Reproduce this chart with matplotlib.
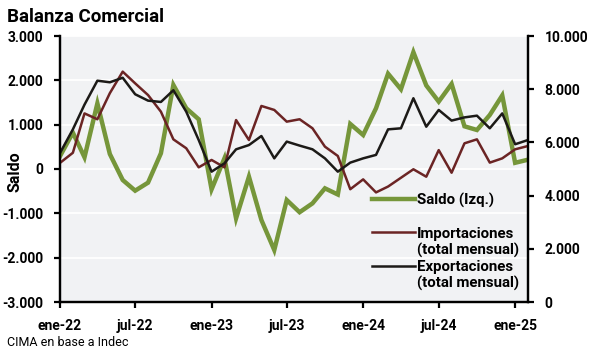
import numpy as np
import pandas as pd
import matplotlib
matplotlib.use("Agg")
import matplotlib.pyplot as plt
from matplotlib.lines import Line2D

plt.rcParams["font.family"] = ["Roboto", "DejaVu Sans"]

# --------------------
# Data (millones de USD)
# --------------------
months = pd.date_range("2022-01-01", periods=38, freq="MS")

saldo = [290, 820, 265, 1480, 338, -248, -489, -308, 354, 1896,
         1370, 1121, -459, 241, -1113, -173, -1151, -1828, -700, -975,
         -775, -436, -575, 1016, 767, 1370, 2150, 1799, 2635, 1885,
         1520, 1919, 963, 880, 1219, 1660, 140, 210]

importaciones = [5230, 5610, 7090, 6870, 7850, 8660, 8220, 7780, 7155, 6115,
                 5780, 5063, 5340, 5063, 6840, 6090, 7370, 7220, 6780, 6870,
                 6530, 5840, 5490, 4240, 4610, 4120, 4340, 4670, 4990, 4710,
                 5710, 4860, 5965, 6115, 5240, 5400, 5740, 5865]

exportaciones = [5600, 6490, 7420, 8320, 8260, 8430, 7810, 7570, 7520, 7960,
                 7155, 6090, 4900, 5213, 5740, 5900, 6240, 5400, 6030, 5880,
                 5740, 5400, 4900, 5240, 5400, 5530, 6490, 6530, 7660, 6590,
                 7220, 6820, 6940, 7005, 6530, 7090, 5930, 6090]

xtick_labels = ["ene-22", "jul-22", "ene-23", "jul-23", "ene-24", "jul-24", "ene-25"]
left_ticks = [-3000, -2000, -1000, 0, 1000, 2000, 3000]
right_ticks = [0, 2000, 4000, 6000, 8000, 10000]

# --------------------
# Styles
# --------------------
green = "#76963A"
maroon = "#6B2424"
black = "#1C1A17"
bg = "#F1F2F4"


def fmt(v):
    return f"{v:,.0f}".replace(",", ".")


fig = plt.figure(figsize=(5.91, 3.55), dpi=100)
ax = fig.add_axes([60 / 591, 53 / 355, 468 / 591, 266 / 355])
ax2 = ax.twinx()

ax.set_facecolor(bg)
ax.plot(months, saldo, color=green, linewidth=3.2, solid_joinstyle="miter")
ax2.plot(months, importaciones, color=maroon, linewidth=1.8)
ax2.plot(months, exportaciones, color=black, linewidth=1.8)

ax.set_xlim(months[0], months[-1])
ax.set_ylim(-3000, 3000)
ax2.set_ylim(0, 10000)

ax.set_yticks(left_ticks)
ax.set_yticklabels([fmt(v) for v in left_ticks])
ax2.set_yticks(right_ticks)
ax2.set_yticklabels([fmt(v) for v in right_ticks])
ax.set_xticks(months[::6])
ax.set_xticklabels(xtick_labels)

ax.grid(axis="y", color="white", linewidth=1.3)
ax.set_axisbelow(True)

for a in (ax, ax2):
    a.spines["top"].set_visible(False)
    for s in ("left", "right", "bottom"):
        a.spines[s].set_linewidth(1.6)
        a.spines[s].set_color("black")

ax.tick_params(axis="y", length=4, width=1.6, pad=8, labelsize=10)
ax.tick_params(axis="x", length=4, width=1.6, pad=8, labelsize=10)
ax2.tick_params(axis="y", length=4, width=1.6, pad=8, labelsize=10)
for lab in ax.get_xticklabels() + ax.get_yticklabels() + ax2.get_yticklabels():
    lab.set_fontweight("bold")

fig.text(15 / 591, 1 - 172 / 355, "Saldo", rotation=90, ha="center", va="center",
         fontsize=11.5, fontweight="bold")
fig.text(7 / 591, 1 - 17 / 355, "Balanza Comercial", ha="left", va="center",
         fontsize=13.5, fontweight="bold")
fig.text(7 / 591, 1 - 343 / 355, "CIMA en base a Indec", ha="left", va="center",
         fontsize=9)

# legend, second lines as blank handles so the line sits on the first text row
blank = Line2D([], [], color="none")
handles = [Line2D([], [], color=green, linewidth=3.2), blank,
           Line2D([], [], color=maroon, linewidth=1.8), blank,
           Line2D([], [], color=black, linewidth=1.8), blank]
labels = ["Saldo (Izq.)", " ", "Importaciones", "(total mensual)",
          "Exportaciones", "(total mensual)"]
leg = ax2.legend(handles, labels, loc="upper left",
                 bbox_to_anchor=(372 / 591, 1 - 193 / 355),
                 bbox_transform=fig.transFigure, frameon=False,
                 handlelength=2.85, handletextpad=0.15, labelspacing=0.15,
                 borderpad=0, borderaxespad=0,
                 prop={"size": 10.8, "weight": "bold"})

fig.savefig("out.png", dpi=100)
